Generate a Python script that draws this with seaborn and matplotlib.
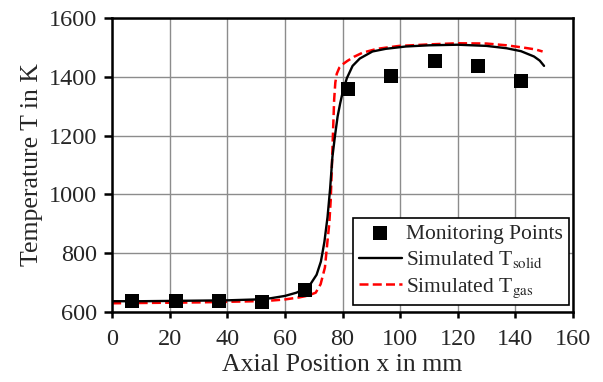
import matplotlib
matplotlib.use("agg")
import matplotlib.pyplot as plt
import pandas as pd
import seaborn as sns

# Monitoring points (measured)
mon_x = [7, 22, 37, 52, 67, 82, 97, 112, 127, 142]
mon_t = [638, 638, 638, 636, 676, 1357, 1403, 1454, 1436, 1384]

# Simulated solid temperature
solid_x = [0, 10, 20, 30, 40, 50, 55, 60, 64, 67, 69, 71, 72.5, 73.7, 74.8, 75.7, 76.5,
           77.4, 78.3, 79.2, 80, 81.5, 83.5, 86, 90.4, 95, 102, 110, 120, 130, 137,
           142, 146.5, 148.5, 150]
solid_t = [637, 637, 638, 639, 640, 643, 647, 655, 666, 680, 697, 727, 772, 838, 923, 1020, 1128,
           1200, 1265, 1310, 1345, 1395, 1437, 1462, 1486, 1495, 1503, 1507, 1509, 1505, 1497,
           1487, 1469, 1455, 1437]

# Simulated gas temperature
gas_x = [0, 10, 20, 30, 40, 50, 55, 60, 65, 68, 70.7, 72.4, 73.9, 74.8, 75.4, 75.9,
         76.3, 76.7, 77.1, 77.5, 78.0, 78.9, 80, 81.7, 84, 87, 92, 99.7, 110, 120,
         130, 137, 143, 147, 149.5]
gas_t = [630, 631, 632, 633, 635, 637, 639, 643, 650, 656, 666, 695, 752, 843, 900, 980,
         1094, 1210, 1322, 1380, 1410, 1431, 1442, 1454, 1468, 1482, 1495, 1505, 1510, 1514,
         1513, 1507, 1499, 1493, 1486]

x_ticks = [0, 20, 40, 60, 80, 100, 120, 140, 160]
y_ticks = [600, 800, 1000, 1200, 1400, 1600]

sns.set_theme(style="white")
plt.rcParams["font.family"] = ["Liberation Serif", "DejaVu Serif"]
plt.rcParams["mathtext.fontset"] = "stix"

fig, ax = plt.subplots(figsize=(6.03, 3.82), dpi=100)
fig.subplots_adjust(left=0.186, right=0.950, bottom=0.183, top=0.953)

solid_df = pd.DataFrame({"x": solid_x, "T": solid_t})
gas_df = pd.DataFrame({"x": gas_x, "T": gas_t})
mon_df = pd.DataFrame({"x": mon_x, "T": mon_t})

sns.lineplot(data=solid_df, x="x", y="T", color="black", linewidth=1.7,
             label=r"Simulated T$_{\mathrm{solid}}$", ax=ax, zorder=3)
sns.lineplot(data=gas_df, x="x", y="T", color="#ff0000", linewidth=1.8,
             label=r"Simulated T$_{\mathrm{gas}}$", ax=ax, zorder=2)
ax.lines[-1].set_dashes((3.6, 1.7))
sns.scatterplot(data=mon_df, x="x", y="T", marker="s", s=100, color="black",
                edgecolor="black", linewidth=0, label="Monitoring Points", ax=ax, zorder=4)

ax.set_xlim(0, 160)
ax.set_ylim(600, 1600)
ax.set_xticks(x_ticks)
ax.set_yticks(y_ticks)
ax.grid(True, color="#8c8c8c", linewidth=1.0)
ax.set_axisbelow(True)

for spine in ax.spines.values():
    spine.set_color("black")
    spine.set_linewidth(1.8)
ax.tick_params(axis="both", direction="out", width=1.8, color="black",
               labelsize=17.5, bottom=True, left=True)
ax.tick_params(axis="y", length=6, pad=5)
ax.tick_params(axis="x", length=4, pad=8)

ax.set_xlabel("Axial Position x in mm", fontsize=18.5, labelpad=3)
ax.set_ylabel("Temperature T in K", fontsize=18.5, labelpad=4)

handles, labels = ax.get_legend_handles_labels()
order = [labels.index("Monitoring Points"),
         labels.index(r"Simulated T$_{\mathrm{solid}}$"),
         labels.index(r"Simulated T$_{\mathrm{gas}}$")]
leg = ax.legend([handles[i] for i in order], [labels[i] for i in order],
                loc="lower right", bbox_to_anchor=(0.991, 0.024), borderaxespad=0,
                fontsize=15.5, frameon=True, fancybox=False, edgecolor="black",
                framealpha=1, handlelength=2.0, handletextpad=0.22, borderpad=0.25,
                labelspacing=0.27)
leg.get_frame().set_linewidth(1.2)

fig.savefig("out.png", dpi=100)
